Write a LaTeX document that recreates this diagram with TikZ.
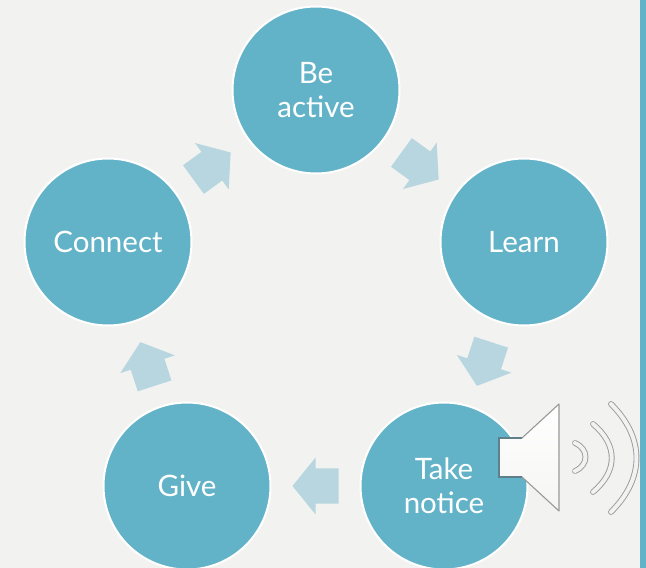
\documentclass[tikz,border=0pt]{standalone}
\usepackage{fontspec}
\usepackage{xcolor}
\usetikzlibrary{calc,shapes.arrows}
\setmainfont{Lato}
\definecolor{page-grey}{HTML}{F2F2F0}
\definecolor{cycle-teal}{HTML}{63B3C8}
\definecolor{cycle-pale}{HTML}{B8D6E0}
\definecolor{speaker-edge}{HTML}{5F7F8A}
\tikzset{
    cycle-circle/.style = {circle, draw=white, fill=cycle-teal, line width=2pt, minimum size=167pt, inner sep=0pt, text=white, align=center, font=\fontsize{29.5}{34}\selectfont},
    cycle-arrow/.style = {single arrow, anchor=tail, fill=cycle-pale, minimum height=46pt, minimum width=57pt, single arrow head extend=11pt, single arrow tip angle=102, single arrow head indent=0pt, inner xsep=0pt, inner ysep=17.5pt, outer sep=0pt},
    speaker-body/.style = {top color=white, bottom color=page-grey!80!white, draw=black!40, line width=1.1pt, line join=round},
    wave-outer/.style = {draw=black!40, line width=5.8pt, line cap=round},
    wave-inner/.style = {draw=white!95!black, line width=4pt, line cap=round},
}
\begin{document}
\begin{tikzpicture}[x=1pt, y=-1pt]
\useasboundingbox (0,0) rectangle (646,568);
\clip (0,0) rectangle (646,568);
\fill[page-grey] (0,0) rectangle (646,568);
\fill[cycle-teal] (640,0) rectangle (646,568);

\node[cycle-circle] (be) at (316,90) {Be\\active};
\node[cycle-circle] (learn) at (524,242) {Learn};
\node[cycle-circle] (take) at (444,486) {Take\\notice};
\node[cycle-circle] (give) at (187,486) {Give};
\node[cycle-circle] (connect) at (108,242) {Connect};

\node[cycle-arrow, rotate=-36] (be-learn) at ($(be)!.5!(learn)!-23pt!(learn)$) {};
\node[cycle-arrow, rotate=-108] (learn-take) at ($(learn)!.5!(take)!-23pt!(take)$) {};
\node[cycle-arrow, rotate=180] (take-give) at ($(take)!.5!(give)!-23pt!(give)$) {};
\node[cycle-arrow, rotate=108] (give-connect) at ($(give)!.5!(connect)!-23pt!(connect)$) {};
\node[cycle-arrow, rotate=36] (connect-be) at ($(connect)!.5!(be)!-23pt!(be)$) {};

\draw[speaker-body] (499,438) -- (522,438) -- (559,404) -- (559,511) -- (522,477) -- (499,477) -- cycle;
\draw[draw=speaker-edge, line width=1.4pt] (522,438) -- (499,438) -- (499,477) -- (522,477);
\foreach \wavestyle in {wave-outer, wave-inner} {
    \draw[\wavestyle] (575,443) .. controls (589,449) and (589,465) .. (575,471);
    \draw[\wavestyle] (593,424) .. controls (618,445) and (618,471) .. (593,492);
    \draw[\wavestyle] (611,404) .. controls (645,438) and (645,478) .. (611,512);
}
\end{tikzpicture}
\end{document}
